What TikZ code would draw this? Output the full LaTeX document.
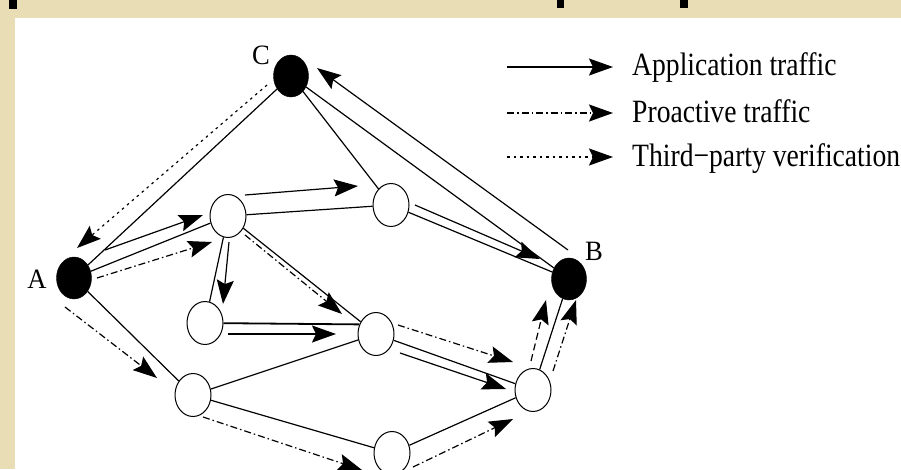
\documentclass[tikz,border=0pt]{standalone}
\usepackage{fontspec}
\setmainfont{Liberation Serif}
\usepackage{graphicx}
\usetikzlibrary{arrows.meta,shapes.geometric}
\definecolor{beige}{RGB}{232,221,180}
\begin{document}
\begin{tikzpicture}[x=1pt,y=-1pt,
  wnode/.style={ellipse,draw,line width=1pt,fill=white,minimum width=36pt,minimum height=43pt,inner sep=0pt},
  bnode/.style={ellipse,draw,fill=black,minimum width=35pt,minimum height=42pt,inner sep=0pt},
  link/.style={line width=1.2pt},
  heavy/.style={line width=1.8pt},
  tipp/.style={-{Stealth[length=24pt,width=17pt,inset=4pt]}},
  app/.style={link,tipp},
  pro/.style={link,tipp,dash pattern=on 7pt off 3pt on 1.5pt off 3pt},
  ver/.style={link,tipp,dash pattern=on 2.5pt off 4pt},
  dsh/.style={link,tipp,dash pattern=on 7pt off 4pt},
  lbl/.style={inner sep=0pt,font=\fontsize{28}{32}\selectfont},
  leg/.style={anchor=base west,inner sep=0pt,font=\fontsize{32.5}{36}\selectfont}]
\useasboundingbox (0,0) rectangle (901,469);
\begin{scope}
\clip (0,0) rectangle (901,469);
\fill[beige] (0,0) rectangle (901,469);
\fill[white] (15,18) rectangle (901,469);
\fill[black] (9,0) rectangle (17,9);
\fill[black] (557,0) rectangle (564,8);
\fill[black] (680,0) rectangle (688,8);

% nodes
\node[bnode] (A) at (74,278) {};
\node[bnode] (C) at (291,76) {};
\node[bnode] (B) at (569,279) {};
\node[wnode] (n1) at (228,216) {};
\node[wnode] (n2) at (391,205) {};
\node[wnode] (n3) at (205,323) {};
\node[wnode] (n4) at (376,334) {};
\node[wnode] (n5) at (193,395) {};
\node[wnode] (n6) at (392,453) {};
\node[wnode] (n7) at (533,390) {};

\node[lbl] (lA) at (37,279) {\scalebox{0.95}[1]{A}};
\node[lbl] (lB) at (594,251) {\scalebox{0.95}[1]{B}};
\node[lbl] (lC) at (261,55) {\scalebox{0.95}[1]{C}};

% links
\draw[link] (C) -- (A);
\draw[link] (C) -- (n2);
\draw[link] (C) -- (B);
\draw[link] (A) -- (n1);
\draw[link] (A) -- (n5);
\draw[link] (n1) -- (n2);
\draw[link] (n1) -- (n3);
\draw[link] (n1) -- (n4);
\draw[link] (n2) -- (B);
\draw[heavy] (n3) -- (n4.150);
\draw[link] (n5) -- (n4);
\draw[link] (n4) -- (n7);
\draw[link] (n5) -- (n6);
\draw[link] (n6) -- (n7);
\draw[link] (n7) -- (B);

% traffic arrows
\coordinate (v1) at (267,85);  \coordinate (v2) at (77,248);
\draw[ver] (v1) -- (v2);
\coordinate (a1) at (105,250); \coordinate (a2) at (203,215);
\draw[app] (a1) -- (a2);
\coordinate (p1) at (97,278);  \coordinate (p2) at (212,242);
\draw[pro] (p1) -- (p2);
\coordinate (a3) at (245,195); \coordinate (a4) at (358,186);
\draw[app] (a3) -- (a4);
\coordinate (a5) at (229,242); \coordinate (a6) at (223,304);
\draw[app] (a5) -- (a6);
\coordinate (p3) at (245,235); \coordinate (p4) at (342,314);
\draw[pro] (p3) -- (p4);
\coordinate (a7) at (228,334); \coordinate (a8) at (336,334);
\draw[heavy,tipp] (a7) -- (a8);
\coordinate (p5) at (65,307);  \coordinate (p6) at (157,378);
\draw[pro] (p5) -- (p6);
\coordinate (p7) at (203,417); \coordinate (p8) at (362,470);
\draw[pro] (p7) -- (p8);
\coordinate (p9) at (413,467); \coordinate (p10) at (513,419);
\draw[pro] (p9) -- (p10);
\coordinate (a9) at (400,353); \coordinate (a10) at (506,389);
\draw[app] (a9) -- (a10);
\coordinate (p11) at (398,325); \coordinate (p12) at (513,362);
\draw[pro] (p11) -- (p12);
\coordinate (a11) at (415,205); \coordinate (a12) at (540,259);
\draw[app] (a11) -- (a12);
\coordinate (a13) at (568,250); \coordinate (a14) at (317,68);
\draw[app] (a13) -- (a14);
\coordinate (d1) at (531,361); \coordinate (d2) at (546,300);
\draw[dsh] (d1) -- (d2);
\coordinate (p13) at (553,371); \coordinate (p14) at (576,300);
\draw[pro] (p13) -- (p14);

% legend
\coordinate (l1s) at (507,67);  \coordinate (l1e) at (613,67);
\coordinate (l2s) at (507,113); \coordinate (l2e) at (613,113);
\coordinate (l3s) at (507,157); \coordinate (l3e) at (613,157);
\draw[app,line width=2pt] (l1s) -- (l1e);
\draw[pro,line width=2pt] (l2s) -- (l2e);
\draw[ver,line width=2pt] (l3s) -- (l3e);
\node[leg] (t1) at (632,75) {\scalebox{0.85}[1]{Application traffic}};
\node[leg] (t2) at (632,122) {\scalebox{0.85}[1]{Proactive traffic}};
\node[leg] (t3) at (632,166) {\scalebox{0.85}[1]{Third−party verification}};
\end{scope}
\end{tikzpicture}
\end{document}
